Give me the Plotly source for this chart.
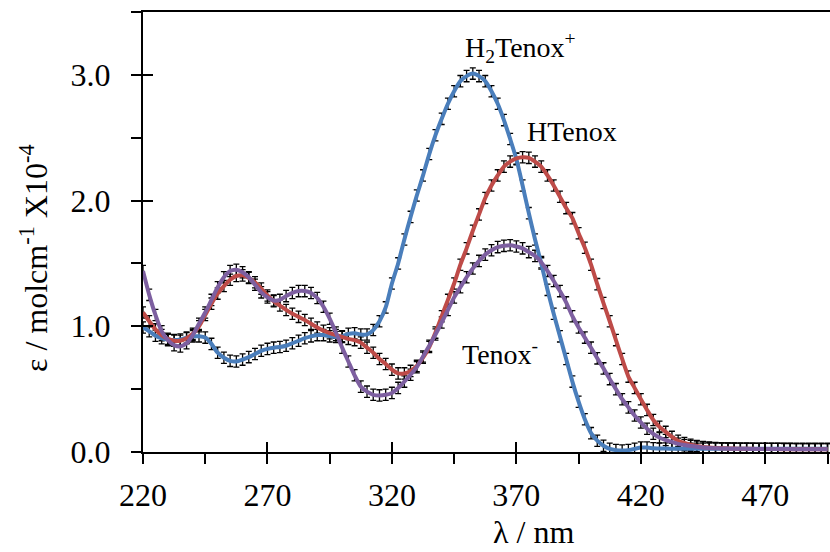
import numpy as np
import plotly.graph_objects as go

# wavelength grid (nm)
wavelength = list(np.arange(220.0, 497.5, 2.5))

# molar absorptivity (x10^-4)
h2tenox = [
    0.99, 0.96, 0.925, 0.905, 0.895, 0.89, 0.895, 0.91, 0.92, 0.92,
    0.91, 0.86, 0.79, 0.75, 0.725, 0.72, 0.735, 0.755, 0.78, 0.805,
    0.82, 0.83, 0.835, 0.845, 0.865, 0.885, 0.905, 0.92, 0.93, 0.93,
    0.92, 0.915, 0.92, 0.94, 0.945, 0.935, 0.935, 0.97, 1.04, 1.15,
    1.34, 1.5, 1.69, 1.87, 2.04, 2.2, 2.37, 2.52, 2.65, 2.77,
    2.87, 2.95, 2.99, 3.01, 2.99, 2.95, 2.87, 2.77, 2.64, 2.49,
    2.33, 2.12, 1.9, 1.69, 1.5, 1.29, 1.1, 0.92, 0.74, 0.56,
    0.4, 0.26, 0.15, 0.09, 0.05, 0.025, 0.015, 0.012, 0.015, 0.025,
    0.035, 0.035, 0.03, 0.028, 0.027, 0.026, 0.026, 0.025, 0.025, 0.025,
    0.025, 0.025, 0.025, 0.025, 0.025, 0.025, 0.025, 0.025, 0.025, 0.025,
    0.025, 0.025, 0.025, 0.025, 0.025, 0.025, 0.025, 0.025, 0.025, 0.025,
    0.025,
]
htenox = [
    1.11, 1.04, 0.975, 0.93, 0.9, 0.885, 0.885, 0.905, 0.94, 1.0,
    1.09, 1.18, 1.26, 1.32, 1.37, 1.4, 1.405, 1.385, 1.35, 1.3,
    1.245, 1.2, 1.165, 1.13, 1.1, 1.075, 1.05, 1.02, 0.99, 0.965,
    0.945, 0.93, 0.915, 0.9, 0.89, 0.87, 0.83, 0.79, 0.74, 0.70,
    0.655, 0.625, 0.625, 0.645, 0.685, 0.75, 0.835, 0.95, 1.08, 1.21,
    1.34, 1.49, 1.62, 1.76, 1.89, 2.02, 2.12, 2.2, 2.27, 2.31,
    2.335, 2.345, 2.34, 2.31, 2.27, 2.2, 2.12, 2.03, 1.94, 1.86,
    1.74, 1.625, 1.49, 1.335, 1.185, 1.04, 0.89, 0.74, 0.6, 0.51,
    0.42, 0.335, 0.255, 0.2, 0.16, 0.12, 0.09, 0.072, 0.058, 0.048,
    0.04, 0.035, 0.032, 0.03, 0.028, 0.027, 0.026, 0.025, 0.025, 0.024,
    0.024, 0.023, 0.023, 0.022, 0.022, 0.022, 0.022, 0.021, 0.021, 0.021,
    0.021,
]
tenox = [
    1.44, 1.25, 1.09, 0.96, 0.89, 0.85, 0.84, 0.865, 0.93, 1.02,
    1.11, 1.21, 1.31, 1.39, 1.44, 1.45, 1.43, 1.39, 1.33, 1.27,
    1.23, 1.205, 1.21, 1.24, 1.265, 1.28, 1.28, 1.265, 1.225, 1.155,
    1.06, 0.95, 0.83, 0.72, 0.61, 0.52, 0.48, 0.455, 0.45, 0.455,
    0.47, 0.51, 0.56, 0.615, 0.675, 0.76, 0.845, 0.935, 1.03, 1.13,
    1.23, 1.31, 1.39, 1.46, 1.52, 1.57, 1.605, 1.63, 1.64, 1.645,
    1.635, 1.62, 1.59, 1.56, 1.51, 1.44, 1.36, 1.28, 1.19, 1.08,
    0.99, 0.91, 0.83, 0.745, 0.665, 0.58, 0.5, 0.42, 0.355, 0.29,
    0.235, 0.185, 0.145, 0.115, 0.095, 0.08, 0.065, 0.055, 0.047, 0.041,
    0.036, 0.032, 0.03, 0.028, 0.027, 0.026, 0.025, 0.025, 0.024, 0.024,
    0.023, 0.023, 0.023, 0.023, 0.023, 0.022, 0.022, 0.022, 0.022, 0.022,
    0.022,
]

series_names = ["H2Tenox+", "HTenox", "Tenox-"]
series_values = [h2tenox, htenox, tenox]
colors = ["#4A7EBB", "#BE4B48", "#7D5FA0"]

FONT = "'Liberation Serif', 'Times New Roman', Times, 'DejaVu Serif', serif"

fig = go.Figure()

# black error-bar ticks under the lines
for name, vals in zip(series_names, series_values):
    fig.add_trace(go.Scatter(
        x=wavelength, y=vals, mode="markers",
        marker=dict(size=1, color="rgba(0,0,0,0)"),
        error_y=dict(type="constant", value=0.045, color="black",
                     thickness=1.3, width=3),
        showlegend=False, hoverinfo="skip"))

for name, vals, c in zip(series_names, series_values, colors):
    fig.add_trace(go.Scatter(
        x=wavelength, y=vals, mode="lines", name=name,
        line=dict(color=c, width=4, shape="spline", smoothing=0.6),
        showlegend=False))

# invisible trace for the overlay axes (inside tick marks)
fig.add_trace(go.Scatter(x=[wavelength[0]], y=[0], xaxis="x2", yaxis="y2",
                         mode="markers", marker=dict(size=1, color="rgba(0,0,0,0)"),
                         showlegend=False, hoverinfo="skip"))

xr = [220, 496]
yr = [0, 3.5]
common_x = dict(range=xr, tick0=220, dtick=50, ticklen=10, tickwidth=1.5,
                tickcolor="black", showgrid=False, zeroline=False,
                minor=dict(dtick=25, tick0=220, ticklen=10, tickwidth=1.5,
                           tickcolor="black"))
common_y = dict(range=yr, tick0=0, dtick=1, ticklen=10, tickwidth=1.5,
                tickcolor="black", showgrid=False, zeroline=False,
                minor=dict(dtick=0.5, tick0=0, ticklen=10, tickwidth=1.5,
                           tickcolor="black"))

fig.update_layout(
    width=830, height=552,
    margin=dict(l=143, r=0, t=12, b=100),
    plot_bgcolor="white", paper_bgcolor="white",
    font=dict(family=FONT, size=28, color="black"),
    xaxis=dict(**common_x, ticks="outside", showline=True, linecolor="black",
               linewidth=2, mirror=True, tickfont=dict(size=32, family=FONT),
               ticklabelstandoff=4),
    yaxis=dict(**common_y, ticks="outside", showline=True, linecolor="black",
               linewidth=2, tickformat=".1f", tickfont=dict(size=32, family=FONT),
               ticklabelstandoff=14),
    xaxis2=dict(**common_x, ticks="inside", overlaying="x", showline=False,
                showticklabels=False),
    yaxis2=dict(**common_y, ticks="inside", overlaying="y", showline=False,
                showticklabels=False),
    annotations=[
        dict(text="H<sub>2</sub>Tenox<sup>+</sup>", xref="paper", yref="paper",
             x=(463 - 143) / 687, y=(452 - 48) / 440, xanchor="left",
             yanchor="middle", showarrow=False, font=dict(size=28, family=FONT)),
        dict(text="HTenox", xref="paper", yref="paper",
             x=(525 - 143) / 687, y=(452 - 131) / 440, xanchor="left",
             yanchor="middle", showarrow=False, font=dict(size=28, family=FONT)),
        dict(text="Tenox<sup>-</sup>", xref="paper", yref="paper",
             x=(460 - 143) / 687, y=(452 - 352) / 440, xanchor="left",
             yanchor="middle", showarrow=False, font=dict(size=28, family=FONT)),
        dict(text="λ / nm", xref="paper", yref="paper",
             x=(533 - 143) / 687, y=(452 - 532) / 440, xanchor="center",
             yanchor="middle", showarrow=False, font=dict(size=32, family=FONT)),
        dict(text="ε / molcm<sup>-1</sup> X10<sup>-4</sup>", xref="paper",
             yref="paper", x=(34 - 143) / 687, y=(452 - 258) / 440,
             textangle=-90, xanchor="center", yanchor="middle",
             showarrow=False, font=dict(size=32, family=FONT)),
    ],
)

fig.write_html("out.html")
